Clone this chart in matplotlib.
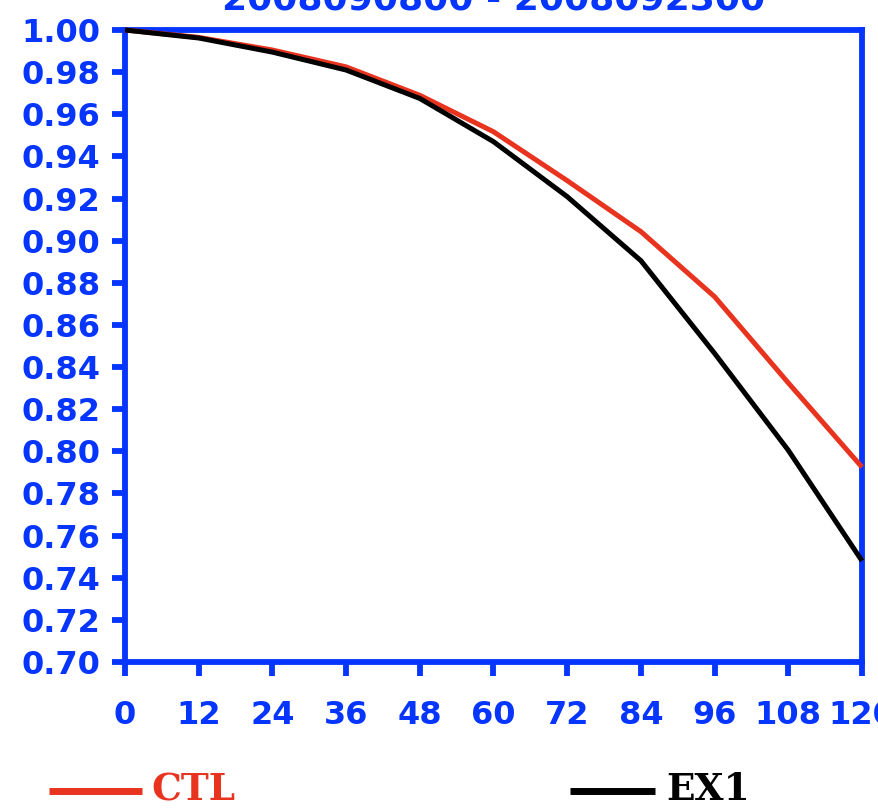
import numpy as np
import matplotlib
matplotlib.use('Agg')
import matplotlib.pyplot as plt
from matplotlib.lines import Line2D

# forecast hour and score for each run
hours = [0, 12, 24, 36, 48, 60, 72, 84, 96, 108, 120]
ctl = [1.000, 0.9965, 0.9905, 0.9825, 0.969, 0.9517, 0.9285, 0.9043, 0.8734, 0.8325, 0.7925]
ex1 = [1.000, 0.9962, 0.9895, 0.981, 0.9675, 0.947, 0.9209, 0.8905, 0.8465, 0.8005, 0.748]
yticks = [0.70, 0.72, 0.74, 0.76, 0.78, 0.80, 0.82, 0.84, 0.86, 0.88,
          0.90, 0.92, 0.94, 0.96, 0.98, 1.00]
title = '2008090800 - 2008092300'

blue = '#0535ff'
red = '#e8331f'

W, H = 879, 809
fig = plt.figure(figsize=(W / 100, H / 100), dpi=100)
ax = fig.add_axes([125 / W, 1 - 662 / H, 737 / W, 632 / H])

ax.plot(hours, ctl, color=red, lw=3.6, clip_on=False, zorder=5, solid_capstyle='butt')
ax.plot(hours, ex1, color='black', lw=3.6, clip_on=False, zorder=6, solid_capstyle='butt')

ax.set_xlim(0, 120)
ax.set_ylim(0.70, 1.00)
ax.set_xticks(hours)
ax.set_yticks(yticks)
ax.set_yticklabels(['{:.2f}'.format(v) for v in yticks])

for s in ax.spines.values():
    s.set_color(blue)
    s.set_linewidth(4.2)

tick_font = dict(family='DejaVu Sans', weight='bold', size=23)
ax.tick_params(axis='x', direction='out', length=10, width=4.2, color=blue,
               labelcolor=blue, pad=17)
ax.tick_params(axis='y', direction='out', length=9.5, width=4.2, color=blue,
               labelcolor=blue, pad=8)
for lab in ax.get_xticklabels() + ax.get_yticklabels():
    lab.set_fontfamily(tick_font['family'])
    lab.set_fontweight(tick_font['weight'])
    lab.set_fontsize(tick_font['size'])

# title sits mostly above the top edge of the image
fig.text(493.5 / W, 1 - 10 / H, title, ha='center', va='baseline',
         color=blue, family='DejaVu Sans', weight='bold', size=26)

# legend along the bottom
def legend_item(x0, x1, xt, color, label):
    y = 1 - 791 / H
    fig.add_artist(Line2D([x0 / W, x1 / W], [y, y], color=color, lw=5,
                          transform=fig.transFigure, solid_capstyle='butt'))
    fig.text(xt / W, 1 - 790 / H, label, ha='left', va='center', color=color,
             family='DejaVu Serif', weight='bold', size=27)

legend_item(49, 142, 151, red, 'CTL')
legend_item(570, 655, 666, 'black', 'EX1')

fig.savefig('out.png', dpi=100)
